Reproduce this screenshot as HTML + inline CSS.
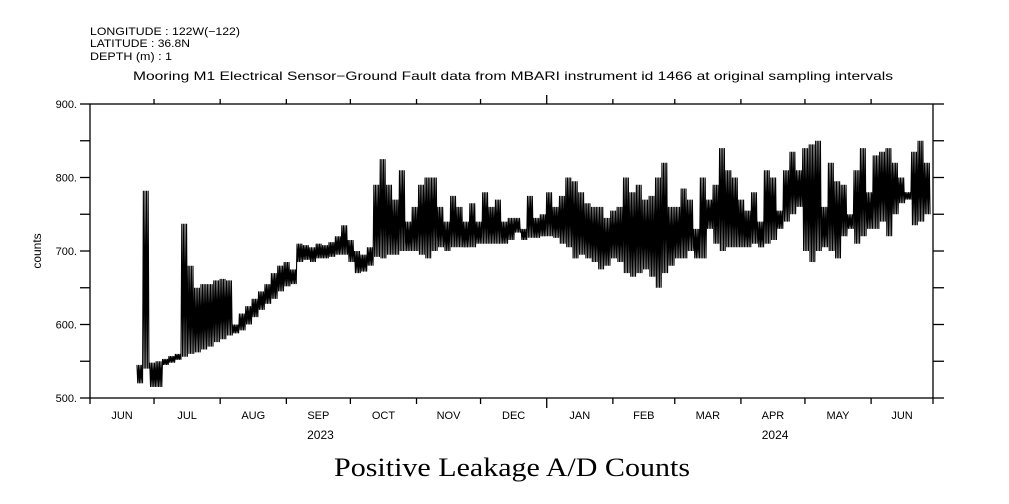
<!DOCTYPE html>
<html><head><meta charset="utf-8"><style>
html,body{margin:0;padding:0;background:#fff;}
svg{display:block;}
text{font-family:"Liberation Sans",sans-serif;fill:#000;}
</style></head><body>
<svg id="chart" width="1009" height="504" viewBox="0 0 1009 504">
<text x="90" y="35" font-size="11" textLength="150" lengthAdjust="spacingAndGlyphs">LONGITUDE : 122W(−122)</text>
<text x="90" y="47" font-size="11" textLength="100" lengthAdjust="spacingAndGlyphs">LATITUDE : 36.8N</text>
<text x="90" y="60" font-size="11" textLength="82" lengthAdjust="spacingAndGlyphs">DEPTH (m) : 1</text>
<text x="133" y="80" font-size="12" textLength="760" lengthAdjust="spacingAndGlyphs">Mooring M1 Electrical Sensor−Ground Fault data from MBARI instrument id 1466 at original sampling intervals</text>
<text x="334" y="476" font-size="26" textLength="356" lengthAdjust="spacingAndGlyphs" style="font-family:'Liberation Serif',serif">Positive Leakage A/D Counts</text>
<text transform="translate(41,251) rotate(-90)" font-size="12" text-anchor="middle">counts</text>
<g id="axes"></g>
<g id="series"></g>
</svg>
<script>
const startDay = 22;
const stepDays = 3;
const lows = [520,540,515,515,545,548,552,556,560,562,566,570,576,580,585,588,592,600,610,620,628,635,645,652,655,
685,688,685,690,690,692,695,695,685,670,672,680,
692,690,695,695,700,700,700,695,690,700,705,700,705,705,705,705,710,710,710,710,710,715,725,715,718,718,720,720,718,710,705,690,695,690,685,675,680,690,685,670,665,670,675,665,650,670,680,690,690,700,690,690,
730,710,700,705,705,705,705,710,705,710,715,730,740,750,760,700,685,700,705,700,690,720,730,710,720,730,730,740,720,750,765,770,735,740,750];
const highs = [545,782,548,550,553,557,560,737,680,650,655,655,660,662,660,600,615,625,635,645,655,670,680,685,675,
710,708,705,710,708,712,720,735,715,700,695,705,
790,825,790,770,810,740,760,790,800,800,760,740,775,760,740,765,740,780,760,770,740,745,745,730,775,745,750,780,760,775,800,795,780,765,760,760,745,755,760,800,780,790,770,775,800,820,760,760,785,770,730,800,770,790,
840,810,800,770,755,780,740,810,800,755,810,835,810,840,845,850,760,820,795,790,750,810,840,780,830,835,840,820,800,780,835,850,820,800,840];
const yTicks = [500,550,600,650,700,750,800,850,900];
const yLabels = ["500.","","600.","","700.","","800.","","900."];
const monthStarts = [0,30,61,92,122,153,183,214,245,274,305,335,366,395];
const monthNames = ["JUN","JUL","AUG","SEP","OCT","NOV","DEC","JAN","FEB","MAR","APR","MAY","JUN"];
const years = ["2023","2024"];
const yearCenters = [108,321];

const X0=90,X1=933,Y0=104,Y1=398,DAYS=395,VMIN=500,VMAX=900;
const xs=d=>X0+(X1-X0)*d/DAYS;
const ys=v=>Y1-(Y1-Y0)*(v-VMIN)/(VMAX-VMIN);
const NS="http://www.w3.org/2000/svg";
const axes=document.getElementById('axes'), ser=document.getElementById('series');
function mk(tag,attrs,parent){const e=document.createElementNS(NS,tag);for(const k in attrs)e.setAttribute(k,attrs[k]);parent.appendChild(e);return e;}

const frame=mk('rect',{x:X0,y:Y0,width:X1-X0,height:Y1-Y0,fill:'none',stroke:'#000','stroke-width':1.3},axes);


yTicks.forEach((v,i)=>{
  const y=ys(v);
  const l=mk('line',{x1:X0-10,x2:X0,y1:y,y2:y,stroke:'#000','stroke-width':1.3},axes);
  
  
  const r=mk('line',{x1:X1,x2:X1+11,y1:y,y2:y,stroke:'#000','stroke-width':1.3},axes);
  
  
  if(yLabels[i]){const t=mk('text',{x:X0-13,y:y+4,'font-size':11,'text-anchor':'end'},axes);t.textContent=yLabels[i];
    
    }
});
monthStarts.forEach((d,i)=>{
  const x=xs(d);
  const isJan = monthNames[i]==="JAN";
  if(i>0&&i<monthStarts.length-1){
    const t=mk('line',{x1:x,x2:x,y1:isJan?Y0-9:Y0-5,y2:Y0,stroke:'#000','stroke-width':1.3},axes);
    
    
  }
  const b=mk('line',{x1:x,x2:x,y1:Y1,y2:isJan?Y1+10:Y1+6,stroke:'#000','stroke-width':1.3},axes);
  
  
  if(i<monthNames.length){
    const m=mk('text',{x:xs((d+monthStarts[i+1])/2),y:419,'font-size':11,'text-anchor':'middle'},axes);m.textContent=monthNames[i];
    
    
  }
});
years.forEach((yr,i)=>{
  const t=mk('text',{x:xs(yearCenters[i]),y:439,'font-size':12,'text-anchor':'middle'},axes);t.textContent=yr;
  
  
});
// sawtooth trace oscillating between each period's low and high
const teeth=4;
let pts=[];
lows.forEach((lo,i)=>{
  const d0=startDay+i*stepDays;
  for(let k=0;k<teeth;k++){
    const dA=d0+stepDays*k/teeth, dB=d0+stepDays*(k+0.5)/teeth;
    pts.push(xs(dA).toFixed(2)+','+ys(highs[i]).toFixed(1));
    pts.push(xs(dB).toFixed(2)+','+ys(lo).toFixed(1));
  }
});
const trace=mk('polyline',{points:pts.join(' '),fill:'none',stroke:'#000','stroke-width':1.1,'stroke-linejoin':'miter','stroke-miterlimit':2},ser);


</script>
</body></html>
